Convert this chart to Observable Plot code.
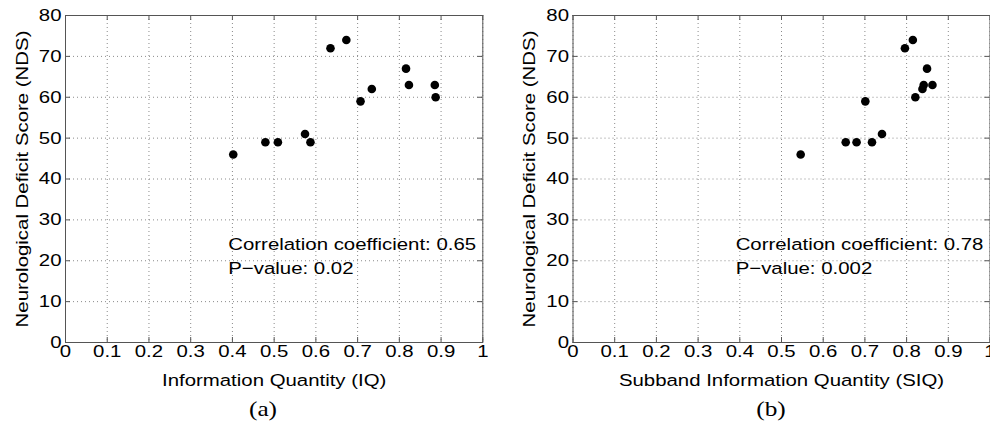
<!DOCTYPE html>
<html>
<head>
<meta charset="utf-8">
<script src="https://cdn.jsdelivr.net/npm/d3@7"></script>
<script src="https://cdn.jsdelivr.net/npm/@observablehq/plot@0.6"></script>
<style>
  html, body { margin: 0; padding: 0; background: #fff; overflow: hidden; }
  #fig { position: relative; width: 990px; height: 425px; overflow: hidden; }
  .panel { position: absolute; top: 0; }
  .cap { position: absolute; top: 396px; font-family: "Liberation Serif", serif; font-size: 22px; color: #000;
         transform: translateX(-50%) scaleX(1.15); white-space: nowrap; }
</style>
</head>
<body>
<div id="fig">
  <div id="pa" class="panel" style="left:0px"></div>
  <div id="pb" class="panel" style="left:500px"></div>
  <div class="cap" style="left:263px">(a)</div>
  <div class="cap" style="left:771px">(b)</div>
</div>
<script>
// ---- data ----
const xTicks = [0, 0.1, 0.2, 0.3, 0.4, 0.5, 0.6, 0.7, 0.8, 0.9, 1];
const yTicks = [0, 10, 20, 30, 40, 50, 60, 70, 80];

const iq   = [0.402, 0.479, 0.509, 0.574, 0.587, 0.635, 0.673, 0.707, 0.734, 0.816, 0.823, 0.885, 0.887];
const ndsA = [46, 49, 49, 51, 49, 72, 74, 59, 62, 67, 63, 63, 60];

const siq  = [0.546, 0.654, 0.680, 0.717, 0.741, 0.701, 0.796, 0.815, 0.849, 0.862, 0.841, 0.838, 0.821];
const ndsB = [46, 49, 49, 49, 51, 59, 72, 74, 67, 63, 63, 62, 60];

const yLabel = "Neurological Deficit Score (NDS)";
const xLabelA = "Information Quantity (IQ)";
const xLabelB = "Subband Information Quantity (SIQ)";

const notesA = ["Correlation coefficient: 0.65", "P\u2212value: 0.02"];
const notesB = ["Correlation coefficient: 0.78", "P\u2212value: 0.002"];
const noteX = [0.39, 0.39];
const noteY = [24, 18];

// ---- drawing ----
const H = 395, MT = 15, MB = 53;
const FRAME = "#555";
const fmt = d3.format("~g");

function panel(xs, ys, xLabel, notes, width, ml, mr) {
  const pw = width - ml - mr, ph = H - MT - MB;
  const pts = xs.map((x, i) => ({x, y: ys[i]}));
  const nt = notes.map((t, i) => ({t, x: noteX[i], y: noteY[i]}));
  const gridStyle = {stroke: "#8a8a8a", strokeOpacity: 1, strokeWidth: 1, strokeDasharray: "1,3"};
  const svg = Plot.plot({
    width, height: H,
    marginLeft: ml, marginRight: mr, marginTop: MT, marginBottom: MB,
    x: {domain: [0, 1]},
    y: {domain: [0, 80]},
    style: {fontFamily: "'Liberation Sans', Arial, sans-serif", fontSize: "17px", color: "#000", background: "#fff", overflow: "visible"},
    marks: [
      Plot.gridX(xTicks, gridStyle),
      Plot.gridY(yTicks, gridStyle),
      Plot.ruleX(xTicks, {x: d => d, insetTop: ph - 5, stroke: FRAME}),
      Plot.ruleX(xTicks, {x: d => d, insetBottom: ph - 5, stroke: FRAME}),
      Plot.ruleY(yTicks, {y: d => d, insetRight: pw - 5, stroke: FRAME}),
      Plot.ruleY(yTicks, {y: d => d, insetLeft: pw - 5, stroke: FRAME}),
      Plot.frame({stroke: FRAME, strokeWidth: 1}),
      Plot.axisX(xTicks, {anchor: "bottom", tickSize: 0, tickPadding: 2, tickFormat: fmt, label: null, fontSize: 17}),
      Plot.axisY(yTicks, {anchor: "left", tickSize: 0, tickPadding: 4, tickFormat: fmt, label: null, fontSize: 17}),
      Plot.text([xLabel], {text: d => d, frameAnchor: "bottom", dy: 31, textAnchor: "middle", lineAnchor: "top", fontSize: 17}),
      Plot.text([yLabel], {text: d => d, frameAnchor: "left", dx: -43, rotate: -90, textAnchor: "middle", lineAnchor: "middle", fontSize: 17}),
      Plot.text(nt, {x: "x", y: "y", text: "t", textAnchor: "start", lineAnchor: "middle", fontSize: 17}),
      Plot.dot(pts, {x: "x", y: "y", r: 4.3, fill: "#000", stroke: "none"})
    ]
  });
  // horizontally widen glyphs (the reference text is stretched ~1.2x)
  const S = 1.2;
  d3.select(svg).selectAll("text").each(function() {
    const t = this.getAttribute("transform") || "";
    this.setAttribute("transform", `${t} scale(${S},1)`);
    const xa = this.getAttribute("x");
    if (xa != null && /^-?[\d.]+(px)?$/.test(xa.trim())) this.setAttribute("x", parseFloat(xa) / S);
  });
  return svg;
}

document.getElementById("pa").appendChild(panel(iq, ndsA, xLabelA, notesA, 495, 65, 12.7));
document.getElementById("pb").appendChild(panel(siq, ndsB, xLabelB, notesB, 490, 72.5, 0.5));
</script>
</body>
</html>
